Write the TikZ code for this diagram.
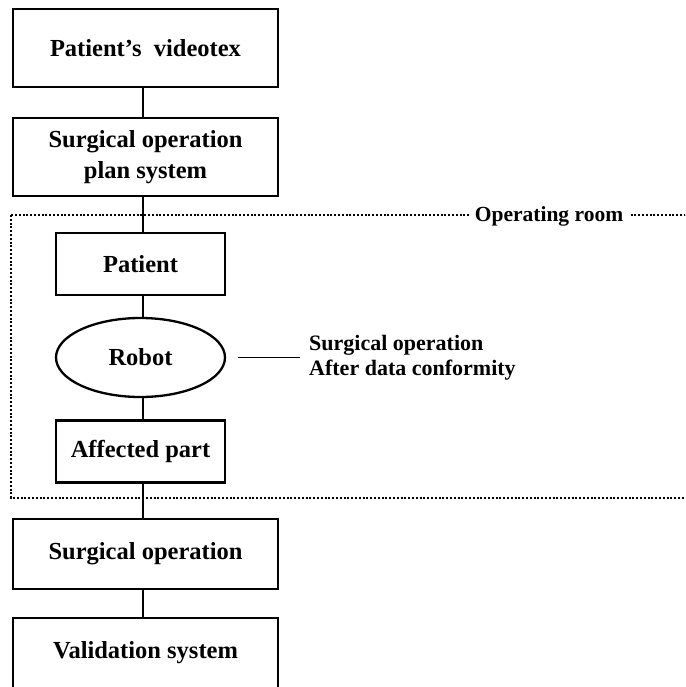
\documentclass[tikz,border=0pt]{standalone}
\usepackage{fontspec}
\setmainfont{Liberation Serif}
\usetikzlibrary{shapes.geometric}
\begin{document}
\begin{tikzpicture}[x=1pt,y=-1pt,
  bigbox/.style={draw, line width=2.8pt, minimum width=265pt, minimum height=78pt, inner sep=0pt, align=center, font=\fontsize{24.5}{31}\selectfont\bfseries},
  smallbox/.style={draw, line width=2.8pt, minimum width=169pt, minimum height=62pt, inner sep=0pt, align=center, font=\fontsize{24.5}{30}\selectfont\bfseries},
  oval/.style={draw, ellipse, line width=2.3pt, minimum width=169pt, minimum height=79pt, inner sep=0pt, font=\fontsize{24.5}{30}\selectfont\bfseries},
  conn/.style={line width=1.6pt},
  room/.style={line width=2.2pt, dash pattern=on 2pt off 1.8pt},
  roomlabel/.style={fill=white, inner xsep=6pt, inner ysep=2pt, font=\fontsize{21.5}{25}\selectfont\bfseries},
  note/.style={anchor=west, inner sep=0pt, align=left, font=\fontsize{22}{25}\selectfont\bfseries}]
\clip (0,0) rectangle (685,687);
\fill[white] (0,0) rectangle (685,687);
\draw[room] (11,215) rectangle (700,498);
\node[roomlabel] (roomlbl) at (549,216) {Operating room};
\coordinate (spine) at (143,0);
\node[bigbox] (video) at (145.5,48) {Patient’s\ \ videotex};
\node[bigbox] (plan) at (145.5,157) {Surgical operation\\plan system};
\node[smallbox] (patient) at (140.5,264) {Patient};
\node[oval] (robot) at (140.5,357.5) {Robot};
\node[smallbox] (part) at (140.5,451.5) {Affected part};
\node[bigbox, minimum height=70pt] (surg) at (145.5,554) {Surgical operation};
\node[bigbox, minimum height=70pt] (valid) at (145.5,653) {Validation system};
\node[note] (conform) at (309,357.5) {Surgical operation\\After data conformity};
\draw[conn] (video.south -| spine) -- (plan.north -| spine);
\draw[conn] (plan.south -| spine) -- (patient.north -| spine);
\draw[conn] (patient.south -| spine) -- (robot.north -| spine);
\draw[conn] (robot.south -| spine) -- (part.north -| spine);
\draw[conn] (part.south -| spine) -- (surg.north -| spine);
\draw[conn] (surg.south -| spine) -- (valid.north -| spine);
\draw[conn] ([xshift=12pt]robot.east) -- ([xshift=-9pt]conform.west);
\end{tikzpicture}
\end{document}
